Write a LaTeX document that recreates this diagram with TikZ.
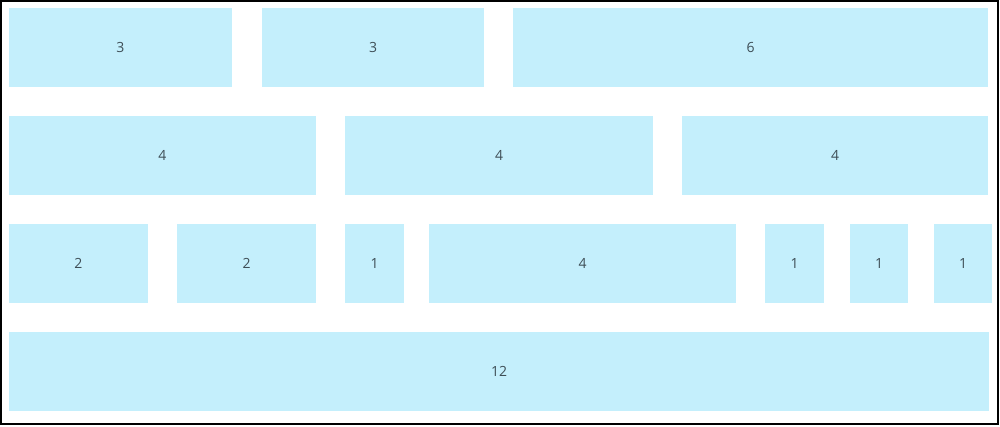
\documentclass[tikz,border=0pt]{standalone}
\usepackage{fontspec}
\setmainfont{Open Sans}
\usetikzlibrary{positioning}
\definecolor{cellfill}{RGB}{196,239,252}
\definecolor{celltext}{RGB}{62,78,86}

\begin{document}
\begin{tikzpicture}
  [
  x=1pt, y=-1pt, font=\fontsize{14}{16}\selectfont,
  cell/.style={rectangle, anchor=north west, inner sep=0pt, outer sep=0pt, minimum height=79pt, fill=cellfill, text=celltext}
  ]

\useasboundingbox (0,0) rectangle (1000,426);
\draw[line width=1.6pt] (1,1) rectangle (998,424);

% row 1
\foreach \x/\w/\n [count=\i] in {9/223/3, 262/222/3, 513/475/6} {
  \node[cell, minimum width=\w pt] (a\i) at (\x,8) {\n};
}

% row 2
\foreach \x/\w/\n [count=\i] in {9/307/4, 345/308/4, 682/306/4} {
  \node[cell, minimum width=\w pt] (b\i) at (\x,116) {\n};
}

% row 3
\foreach \x/\w/\n [count=\i] in {9/139/2, 177/139/2, 345/59/1, 429/307/4, 765/59/1, 850/58/1, 934/58/1} {
  \node[cell, minimum width=\w pt] (c\i) at (\x,224) {\n};
}

% row 4
\node[cell, minimum width=980pt] (d1) at (9,332) {12};
\end{tikzpicture}
\end{document}
